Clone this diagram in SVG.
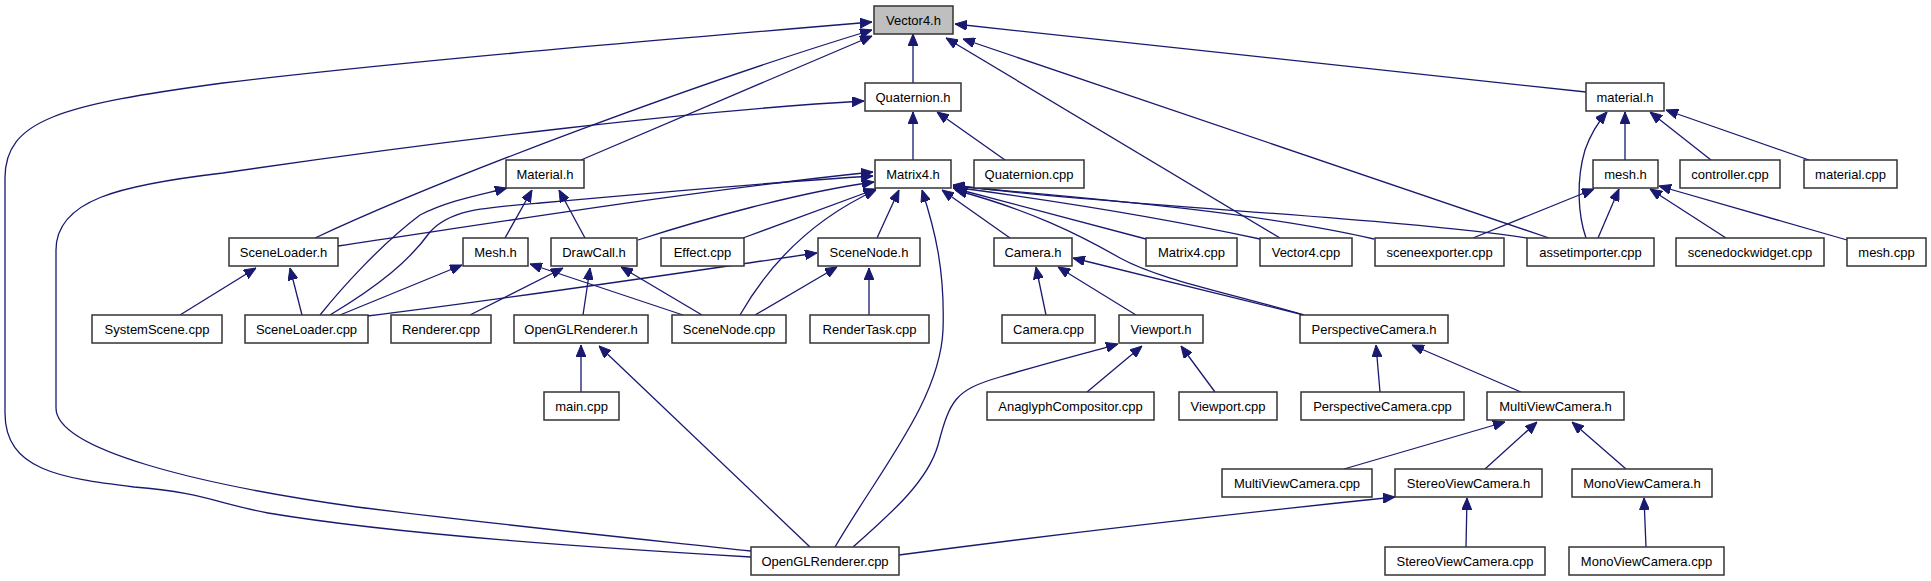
<svg xmlns="http://www.w3.org/2000/svg" width="1931" height="581" viewBox="0 0 1931 581">
<style>
.n rect{fill:#ffffff;stroke:#333333;stroke-width:1.5}
.n.root rect{fill:#bfbfbf}
.n text{font-family:"Liberation Sans",Arial,Helvetica,sans-serif;font-size:13px;text-anchor:middle;fill:#000000}
.e path{fill:none;stroke:#191970;stroke-width:1.3;marker-end:url(#ah)}
</style>
<defs>
<marker id="ah" markerUnits="userSpaceOnUse" markerWidth="12" markerHeight="10" viewBox="0 0 12 10" refX="12" refY="5" orient="auto">
<path d="M0,0 L12,5 L0,10 z" fill="#191970" stroke="#191970" stroke-width="1"/>
</marker>
</defs>
<rect x="0" y="0" width="1931" height="581" fill="#ffffff"/>
<g id="connectors" class="e">
<path d="M913,83 L913,34"/>
<path d="M581,160 L872,36"/>
<path d="M315,238 C450,175 700,82 872,30"/>
<path d="M751,557 C600,548 400,535 268,513 C220,504 200,492 134,487 C60,478 5,470 5,413 L5,178 C5,120 60,105 223,83 C400,62 600,45 872,22"/>
<path d="M1280,238 L946,38"/>
<path d="M1549,238 L963,39"/>
<path d="M1586,92 L955,24"/>
<path d="M751,551 C650,540 500,525 357,507 C200,485 56,450 56,408 L56,250 C56,200 120,185 223,173 C450,140 700,110 864,101"/>
<path d="M913,160 L913,112"/>
<path d="M1005,160 L937,112"/>
<path d="M338,246 C500,222 700,190 873,172"/>
<path d="M330,315 C380,285 410,260 430,232 C450,210 480,208 540,203 C650,193 760,183 873,176"/>
<path d="M320,315 C340,290 380,245 420,215 C450,200 480,195 507,188"/>
<path d="M638,240 C700,220 800,192 874,182"/>
<path d="M743,238 L876,189"/>
<path d="M740,315 C760,280 800,225 876,190"/>
<path d="M877,238 L899,190"/>
<path d="M835,547 C880,470 940,400 943,330 C945,270 935,230 922,190"/>
<path d="M1010,238 L942,190"/>
<path d="M1146,239 L953,188"/>
<path d="M1260,239 C1150,215 1050,200 953,187"/>
<path d="M1374,239 C1250,210 1050,195 953,186"/>
<path d="M1527,238 C1400,218 1100,205 953,185"/>
<path d="M1304,315 C1230,293 1160,280 1120,258 C1080,235 1030,210 955,190"/>
<path d="M505,238 L532,190"/>
<path d="M585,238 L559,190"/>
<path d="M180,315 L256,268"/>
<path d="M302,315 L290,268"/>
<path d="M340,315 L462,265"/>
<path d="M683,315 L530,264"/>
<path d="M470,315 L563,268"/>
<path d="M583,315 L590,268"/>
<path d="M702,315 L621,267"/>
<path d="M367,316 C500,300 700,270 817,253"/>
<path d="M755,315 L837,267"/>
<path d="M869,315 L869,268"/>
<path d="M581,392 L581,345"/>
<path d="M810,547 L599,346"/>
<path d="M1046,315 L1036,267"/>
<path d="M1136,315 L1058,267"/>
<path d="M1304,315 L1073,258"/>
<path d="M1087,392 L1142,346"/>
<path d="M1215,392 L1181,346"/>
<path d="M853,547 C895,510 928,480 938,445 C950,400 955,390 1000,377 C1050,362 1090,352 1118,344"/>
<path d="M1380,392 L1376,345"/>
<path d="M1521,392 L1412,345"/>
<path d="M1344,469 L1505,422"/>
<path d="M1485,469 L1537,422"/>
<path d="M1626,469 L1572,422"/>
<path d="M1466,547 L1467,498"/>
<path d="M899,555 C1050,535 1250,512 1395,497"/>
<path d="M1646,547 L1644,498"/>
<path d="M1625,160 L1625,112"/>
<path d="M1711,160 L1650,112"/>
<path d="M1809,160 L1666,110"/>
<path d="M1586,238 C1578,215 1576,180 1585,150 C1592,130 1600,120 1607,112"/>
<path d="M1473,238 L1594,189"/>
<path d="M1598,238 L1619,189"/>
<path d="M1726,238 L1650,189"/>
<path d="M1847,240 L1659,186"/>
</g>
<g id="n-vector4-h" class="n root"><rect x="874" y="6" width="79" height="28"/><text x="913.5" y="25">Vector4.h</text></g>
<g id="n-quaternion-h" class="n"><rect x="865" y="83" width="96" height="28"/><text x="913" y="102">Quaternion.h</text></g>
<g id="n-material-h-lower" class="n"><rect x="1586" y="83" width="78" height="28"/><text x="1625" y="102">material.h</text></g>
<g id="n-material-h" class="n"><rect x="506" y="160" width="78" height="28"/><text x="545" y="179">Material.h</text></g>
<g id="n-matrix4-h" class="n"><rect x="875" y="160" width="76" height="28"/><text x="913" y="179">Matrix4.h</text></g>
<g id="n-quaternion-cpp" class="n"><rect x="974" y="160" width="110" height="28"/><text x="1029" y="179">Quaternion.cpp</text></g>
<g id="n-mesh-h-lower" class="n"><rect x="1593" y="160" width="65" height="28"/><text x="1625.5" y="179">mesh.h</text></g>
<g id="n-controller-cpp" class="n"><rect x="1680" y="160" width="100" height="28"/><text x="1730" y="179">controller.cpp</text></g>
<g id="n-material-cpp" class="n"><rect x="1804" y="160" width="93" height="28"/><text x="1850.5" y="179">material.cpp</text></g>
<g id="n-sceneloader-h" class="n"><rect x="229" y="238" width="109" height="28"/><text x="283.5" y="257">SceneLoader.h</text></g>
<g id="n-mesh-h" class="n"><rect x="463" y="238" width="65" height="28"/><text x="495.5" y="257">Mesh.h</text></g>
<g id="n-drawcall-h" class="n"><rect x="551" y="238" width="86" height="28"/><text x="594" y="257">DrawCall.h</text></g>
<g id="n-effect-cpp" class="n"><rect x="661" y="238" width="83" height="28"/><text x="702.5" y="257">Effect.cpp</text></g>
<g id="n-scenenode-h" class="n"><rect x="818" y="238" width="102" height="28"/><text x="869" y="257">SceneNode.h</text></g>
<g id="n-camera-h" class="n"><rect x="994" y="238" width="78" height="28"/><text x="1033" y="257">Camera.h</text></g>
<g id="n-matrix4-cpp" class="n"><rect x="1146" y="238" width="91" height="28"/><text x="1191.5" y="257">Matrix4.cpp</text></g>
<g id="n-vector4-cpp" class="n"><rect x="1260" y="238" width="92" height="28"/><text x="1306" y="257">Vector4.cpp</text></g>
<g id="n-sceneexporter-cpp" class="n"><rect x="1375" y="238" width="129" height="28"/><text x="1439.5" y="257">sceneexporter.cpp</text></g>
<g id="n-assetimporter-cpp" class="n"><rect x="1527" y="238" width="127" height="28"/><text x="1590.5" y="257">assetimporter.cpp</text></g>
<g id="n-scenedockwidget-cpp" class="n"><rect x="1676" y="238" width="148" height="28"/><text x="1750" y="257">scenedockwidget.cpp</text></g>
<g id="n-mesh-cpp" class="n"><rect x="1847" y="238" width="79" height="28"/><text x="1886.5" y="257">mesh.cpp</text></g>
<g id="n-systemscene-cpp" class="n"><rect x="92" y="315" width="130" height="28"/><text x="157" y="334">SystemScene.cpp</text></g>
<g id="n-sceneloader-cpp" class="n"><rect x="245" y="315" width="123" height="28"/><text x="306.5" y="334">SceneLoader.cpp</text></g>
<g id="n-renderer-cpp" class="n"><rect x="391" y="315" width="100" height="28"/><text x="441" y="334">Renderer.cpp</text></g>
<g id="n-openglrenderer-h" class="n"><rect x="514" y="315" width="134" height="28"/><text x="581" y="334">OpenGLRenderer.h</text></g>
<g id="n-scenenode-cpp" class="n"><rect x="672" y="315" width="114" height="28"/><text x="729" y="334">SceneNode.cpp</text></g>
<g id="n-rendertask-cpp" class="n"><rect x="810" y="315" width="119" height="28"/><text x="869.5" y="334">RenderTask.cpp</text></g>
<g id="n-camera-cpp" class="n"><rect x="1002" y="315" width="93" height="28"/><text x="1048.5" y="334">Camera.cpp</text></g>
<g id="n-viewport-h" class="n"><rect x="1119" y="315" width="84" height="28"/><text x="1161" y="334">Viewport.h</text></g>
<g id="n-perspectivecamera-h" class="n"><rect x="1300" y="315" width="148" height="28"/><text x="1374" y="334">PerspectiveCamera.h</text></g>
<g id="n-main-cpp" class="n"><rect x="544" y="392" width="75" height="28"/><text x="581.5" y="411">main.cpp</text></g>
<g id="n-anaglyphcompositor-cpp" class="n"><rect x="987" y="392" width="167" height="28"/><text x="1070.5" y="411">AnaglyphCompositor.cpp</text></g>
<g id="n-viewport-cpp" class="n"><rect x="1179" y="392" width="98" height="28"/><text x="1228" y="411">Viewport.cpp</text></g>
<g id="n-perspectivecamera-cpp" class="n"><rect x="1301" y="392" width="163" height="28"/><text x="1382.5" y="411">PerspectiveCamera.cpp</text></g>
<g id="n-multiviewcamera-h" class="n"><rect x="1487" y="392" width="137" height="28"/><text x="1555.5" y="411">MultiViewCamera.h</text></g>
<g id="n-multiviewcamera-cpp" class="n"><rect x="1222" y="469" width="150" height="28"/><text x="1297" y="488">MultiViewCamera.cpp</text></g>
<g id="n-stereoviewcamera-h" class="n"><rect x="1395" y="469" width="147" height="28"/><text x="1468.5" y="488">StereoViewCamera.h</text></g>
<g id="n-monoviewcamera-h" class="n"><rect x="1572" y="469" width="140" height="28"/><text x="1642" y="488">MonoViewCamera.h</text></g>
<g id="n-openglrenderer-cpp" class="n"><rect x="751" y="547" width="148" height="28"/><text x="825" y="566">OpenGLRenderer.cpp</text></g>
<g id="n-stereoviewcamera-cpp" class="n"><rect x="1385" y="547" width="160" height="28"/><text x="1465" y="566">StereoViewCamera.cpp</text></g>
<g id="n-monoviewcamera-cpp" class="n"><rect x="1569" y="547" width="155" height="28"/><text x="1646.5" y="566">MonoViewCamera.cpp</text></g>
</svg>
